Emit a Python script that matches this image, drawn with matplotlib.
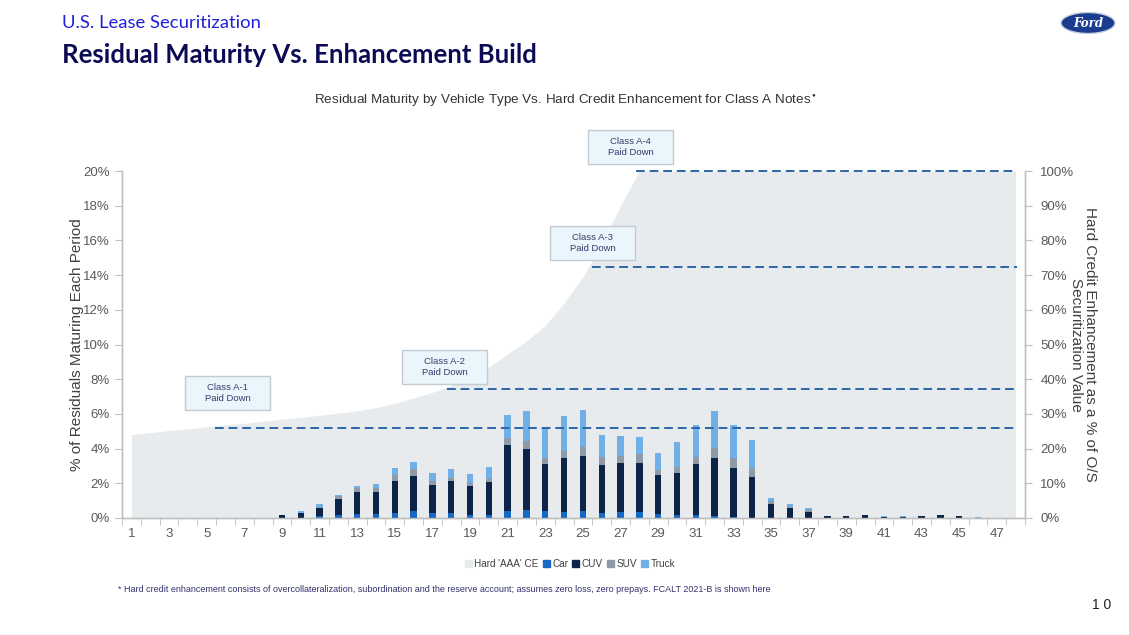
import numpy as np
import matplotlib
matplotlib.use('Agg')
import matplotlib.pyplot as plt
from matplotlib.patches import Patch, Ellipse, FancyBboxPatch
from matplotlib.ticker import FuncFormatter

plt.rcParams['font.family'] = ['Liberation Sans', 'DejaVu Sans']

COLORS = {
    "ce": "#E8EBED",
    "car": "#1768C4",
    "cuv": "#0C2447",
    "suv": "#8E9BA7",
    "truck": "#70B0E6",
    "dash": "#2B66AA",
    "axis": "#BFBFBF",
    "tick": "#595959",
    "box_fill": "#EAF6FC",
    "box_edge": "#C3CBD2",
    "box_text": "#3A3A6A",
}

periods = list(range(1, 49))

# Hard 'AAA' credit enhancement (% of O/S securitization value)
hard_ce = [24.0, 24.6, 25.2, 25.7, 26.3, 26.9, 27.3, 27.9, 28.5, 29.0,
           29.6, 30.2, 30.9, 31.8, 33.0, 34.6, 36.2, 38.2, 40.5, 43.5,
           47.3, 51.0, 55.5, 62.0, 69.5, 79.0, 90.0, 100, 100, 100,
           100, 100, 100, 100, 100, 100, 100, 100, 100, 100,
           100, 100, 100, 100, 100, 100, 100, 100]

# % of residuals maturing each period by vehicle type
car = [0, 0, 0, 0, 0, 0, 0, 0, 0.0, 0.02,
       0.10, 0.15, 0.23, 0.23, 0.29, 0.40, 0.27, 0.31, 0.19, 0.19,
       0.42, 0.48, 0.38, 0.37, 0.42, 0.31, 0.37, 0.37, 0.21, 0.17,
       0.17, 0.12, 0.04, 0, 0, 0, 0, 0, 0, 0,
       0, 0, 0, 0, 0, 0, 0, 0]
cuv = [0, 0, 0, 0, 0, 0, 0, 0, 0.15, 0.25,
       0.50, 0.92, 1.29, 1.25, 1.86, 2.00, 1.65, 1.80, 1.63, 1.86,
       3.80, 3.48, 2.75, 3.08, 3.16, 2.76, 2.78, 2.80, 2.25, 2.42,
       2.92, 3.34, 2.86, 2.36, 0.83, 0.60, 0.35, 0.10, 0.11, 0.17,
       0.08, 0.04, 0.12, 0.15, 0.10, 0.02, 0, 0]
suv = [0, 0, 0, 0, 0, 0, 0, 0, 0, 0.03,
       0.05, 0.20, 0.20, 0.27, 0.35, 0.40, 0.20, 0.22, 0.20, 0.20,
       0.37, 0.50, 0.35, 0.44, 0.52, 0.42, 0.42, 0.50, 0.31, 0.35,
       0.42, 0.58, 0.56, 0.52, 0.15, 0.06, 0.10, 0, 0, 0,
       0, 0, 0, 0, 0, 0, 0, 0]
truck = [0, 0, 0, 0, 0, 0, 0, 0, 0.02, 0.12,
         0.15, 0.07, 0.15, 0.22, 0.38, 0.43, 0.45, 0.52, 0.50, 0.67,
         1.33, 1.68, 1.67, 1.99, 2.13, 1.30, 1.14, 0.98, 0.95, 1.43,
         1.83, 2.14, 1.88, 1.62, 0.17, 0.15, 0.13, 0.02, 0.02, 0.02,
         0.04, 0.06, 0.02, 0.02, 0.03, 0.05, 0, 0]

# class paydown markers: (label, CE level %, first period of dashed line)
paydown_labels = ["Class A-1\nPaid Down", "Class A-2\nPaid Down",
                  "Class A-3\nPaid Down", "Class A-4\nPaid Down"]
paydown_levels = [25.9, 37.2, 72.3, 100.0]
paydown_start = [5.45, 17.8, 25.5, 27.8]

W, H = 1129, 635
fig = plt.figure(figsize=(W / 100, H / 100), dpi=100)
fig.set_facecolor("white")

ax = fig.add_axes([122 / W, 1 - 518 / H, (1025 - 122) / W, (518 - 171) / H])
ax2 = ax.twinx()
ax.set_zorder(ax2.get_zorder() + 1)
ax.patch.set_visible(False)

# area: hard credit enhancement on right axis
ax2.fill_between(periods, 0, hard_ce, color=COLORS["ce"], linewidth=0)

# stacked bars on left axis
x = np.array(periods)
bw = 0.34
bottom = np.zeros(len(periods))
for vals, key in [(car, "car"), (cuv, "cuv"), (suv, "suv"), (truck, "truck")]:
    ax.bar(x, vals, bw, bottom=bottom, color=COLORS[key], linewidth=0)
    bottom += np.array(vals)

# dashed paydown lines, drawn on right axis scale but above bars
for lvl, xs in zip(paydown_levels, paydown_start):
    ax.plot([xs, 48.1], [lvl, lvl], transform=ax2.transData,
            color=COLORS["dash"], linestyle=(0, (4.5, 2.5)), linewidth=1.4,
            zorder=5, clip_on=False)

# limits and ticks
ax.set_xlim(0.5, 48.5)
ax.set_ylim(0, 20)
ax2.set_ylim(0, 100)

ax.set_xticks(range(1, 48, 2))
ax.set_xticks(np.arange(0.5, 48.6, 1), minor=True)
ax.tick_params(axis='x', which='major', length=0, pad=7,
               labelsize=9.5, labelcolor=COLORS["tick"])
ax.tick_params(axis='x', which='minor', length=5, color=COLORS["axis"])

ax.set_yticks(range(0, 21, 2))
ax.yaxis.set_major_formatter(FuncFormatter(lambda v, p: f"{int(v)}%"))
ax.tick_params(axis='y', length=5, color=COLORS["axis"], pad=4,
               labelsize=9.5, labelcolor=COLORS["tick"])

ax2.set_yticks(range(0, 101, 10))
ax2.yaxis.set_major_formatter(FuncFormatter(lambda v, p: f"{int(v)}%"))
ax2.tick_params(axis='y', length=5, color=COLORS["axis"], pad=6,
                labelsize=9.5, labelcolor=COLORS["tick"])

for a in (ax, ax2):
    a.spines['top'].set_visible(False)
    for s in ('left', 'right', 'bottom'):
        a.spines[s].set_color(COLORS["axis"])
        a.spines[s].set_linewidth(1)

ax.set_ylabel("% of Residuals Maturing Each Period", fontsize=11,
              color="#404040", labelpad=-1)
ax2.set_ylabel("Hard Credit Enhancement as a % of O/S\nSecuritization Value",
               fontsize=11, color="#404040", rotation=-90, labelpad=16,
               linespacing=1.0)

# paydown boxes (pixel positions of the slide layout)
box_px = [(185, 376), (402, 350), (550, 226), (588, 130)]
for (bx, by), txt in zip(box_px, paydown_labels):
    fig.patches.append(FancyBboxPatch(
        (bx / W, 1 - (by + 34) / H), 85 / W, 34 / H,
        boxstyle="square,pad=0", transform=fig.transFigure,
        facecolor=COLORS["box_fill"], edgecolor=COLORS["box_edge"],
        linewidth=1, zorder=10))
    fig.text((bx + 42.5) / W, 1 - (by + 17) / H, txt, ha='center',
             va='center', fontsize=6.8, color=COLORS["box_text"],
             linespacing=1.25, zorder=11)

# header
fig.text(62 / W, 1 - 23 / H, "U.S. Lease Securitization", fontsize=13.3,
         color="#2020D8", family=['Lato', 'DejaVu Sans'], va='center')
fig.text(62 / W, 1 - 55 / H, "Residual Maturity Vs. Enhancement Build",
         fontsize=18.5, color="#0B0B55", fontweight='bold',
         family=['Lato', 'DejaVu Sans'], va='center')

fig.text(565 / W, 1 - 101 / H,
         "Residual Maturity by Vehicle Type Vs. Hard Credit Enhancement for Class A Notes$^{\\bullet}$",
         fontsize=9.7, color="#333333", ha='center', va='center')

# legend
handles = [Patch(color=COLORS["ce"], label="Hard 'AAA' CE"),
           Patch(color=COLORS["car"], label="Car"),
           Patch(color=COLORS["cuv"], label="CUV"),
           Patch(color=COLORS["suv"], label="SUV"),
           Patch(color=COLORS["truck"], label="Truck")]
fig.legend(handles=handles, loc='center', bbox_to_anchor=(570 / W, 1 - 564 / H),
           ncol=5, frameon=False, fontsize=7.2, handlelength=0.7,
           handleheight=0.7, handletextpad=0.25, columnspacing=0.4,
           labelcolor="#404040")

# footnote
fig.text(118 / W, 1 - 589 / H,
         "* Hard credit enhancement consists of overcollateralization, subordination and the reserve account; "
         "assumes zero loss, zero prepays. FCALT 2021-B is shown here",
         fontsize=6.5, color="#33336A", va='center')

# page number
fig.text(1111 / W, 1 - 605 / H, "1 0", fontsize=10, color="#222222",
         ha='right', va='center')

# Ford logo
fig.patches.append(Ellipse((1088 / W, 1 - 23 / H), 54 / W, 21 / H,
                           transform=fig.transFigure, facecolor="#1B3D8F",
                           edgecolor="#C8D0E0", linewidth=1))
fig.text(1088 / W, 1 - 23.5 / H, "Ford", fontsize=8.5, color="white",
         style='italic', fontweight='bold', family=['DejaVu Serif'],
         ha='center', va='center')

plt.savefig("out.png", dpi=100)
